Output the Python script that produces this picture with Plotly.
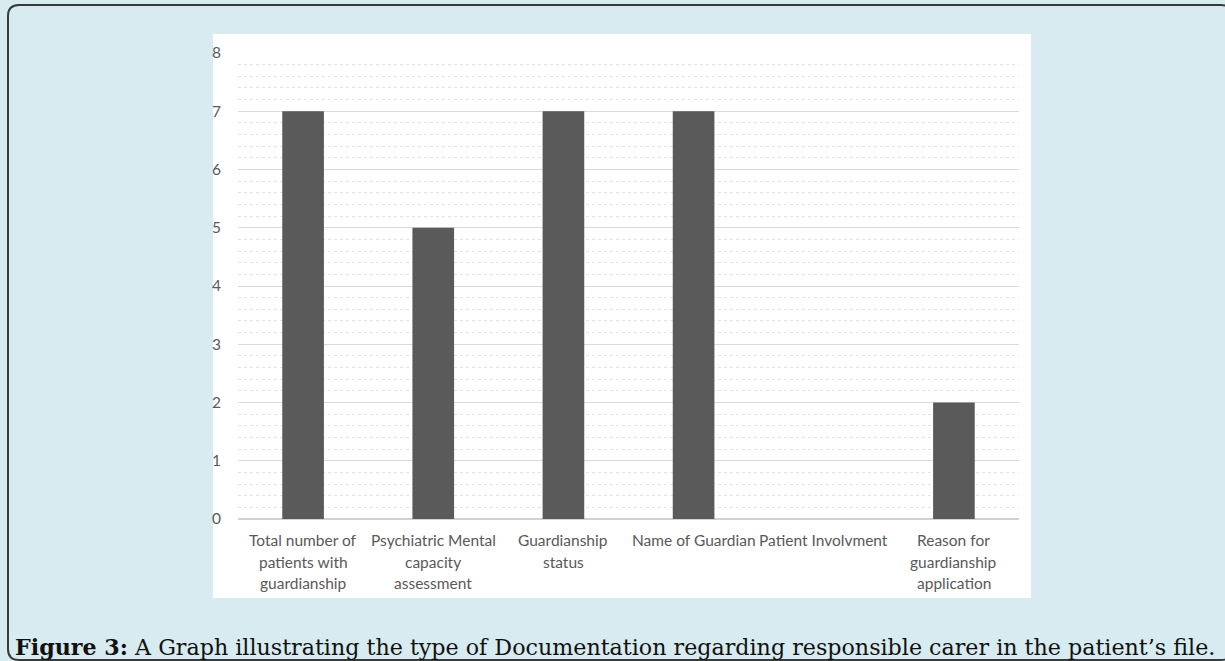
import plotly.graph_objects as go

# Documentation items and counts
categories = [
    "Total number of\npatients with\nguardianship",
    "Psychiatric Mental\ncapacity\nassessment",
    "Guardianship\nstatus",
    "Name of Guardian",
    "Patient Involvment",
    "Reason for\nguardianship\napplication",
]
counts = [7, 5, 7, 7, 0, 2]
y_ticks = [0, 1, 2, 3, 4, 5, 6, 7, 8]
caption_bold = "Figure 3:"
caption_text = " A Graph illustrating the type of Documentation regarding responsible carer in the patient’s file."

W, H = 1225, 661
L, R, T, B = 238, 1019, 53, 519   # plot area in pixels


def px_x(x):
    return (x - L) / (R - L)


def px_y(y):
    return (B - y) / (B - T)


TEXT = "#595959"
FONT = "Lato, 'Open Sans', sans-serif"

fig = go.Figure()
xs = list(range(len(categories)))
fig.add_trace(go.Bar(
    x=xs, y=counts, width=0.32,
    marker=dict(color="#5a5a5a", line=dict(width=0)),
    hoverinfo="skip",
))

# category labels, one annotation per line
for i, label in enumerate(categories):
    for j, line in enumerate(label.split("\n")):
        fig.add_annotation(
            x=i, xref="x", y=px_y(540 + j * 21.5), yref="paper",
            text=line, showarrow=False, xanchor="center", yanchor="middle",
            font=dict(family=FONT, size=15.5, color=TEXT),
        )

# caption
fig.add_annotation(
    x=px_x(13), xref="paper", y=px_y(647), yref="paper",
    text=f"<b>{caption_bold}</b>{caption_text}", showarrow=False,
    xanchor="left", yanchor="middle",
    font=dict(family="'DejaVu Serif', serif", size=22.2, color="#111111"),
)

# white chart panel
fig.add_shape(type="rect", xref="paper", yref="paper", layer="below",
              x0=px_x(213), x1=px_x(1031), y0=px_y(598), y1=px_y(34),
              fillcolor="white", line=dict(width=0))

# rounded outer frame (right side runs past the page edge)
x0, y0, x1, y1, r = 8, 5, 1232, 660, 11
path = (f"M {px_x(x0)},{px_y(y0 + r)} "
        f"Q {px_x(x0)},{px_y(y0)} {px_x(x0 + r)},{px_y(y0)} "
        f"L {px_x(x1 - r)},{px_y(y0)} "
        f"Q {px_x(x1)},{px_y(y0)} {px_x(x1)},{px_y(y0 + r)} "
        f"L {px_x(x1)},{px_y(y1 - r)} "
        f"Q {px_x(x1)},{px_y(y1)} {px_x(x1 - r)},{px_y(y1)} "
        f"L {px_x(x0 + r)},{px_y(y1)} "
        f"Q {px_x(x0)},{px_y(y1)} {px_x(x0)},{px_y(y1 - r)} Z")
fig.add_shape(type="path", path=path, xref="paper", yref="paper", layer="below",
              line=dict(color="#3a3a3a", width=2), fillcolor="rgba(0,0,0,0)")

fig.update_layout(
    width=W, height=H,
    margin=dict(l=L, r=W - R, t=T, b=H - B),
    paper_bgcolor="#d7ebf0",
    plot_bgcolor="rgba(0,0,0,0)",
    showlegend=False,
)
fig.update_xaxes(
    range=[-0.5, len(categories) - 0.5], showticklabels=False,
    showgrid=False, zeroline=False, showline=False, ticks="",
)
fig.update_yaxes(
    range=[0, 8], tickvals=y_ticks, ticktext=[str(v) for v in y_ticks],
    showgrid=True, gridcolor="#dadada", gridwidth=1.2,
    minor=dict(dtick=0.2, showgrid=True, gridcolor="#e3e3e3", griddash="dot", gridwidth=1),
    zeroline=True, zerolinecolor="#d2d2d2", zerolinewidth=1.5,
    showline=False, ticks="", ticklabelstandoff=16,
    tickfont=dict(family=FONT, size=15.5, color=TEXT),
)

fig.write_html("out.html")
